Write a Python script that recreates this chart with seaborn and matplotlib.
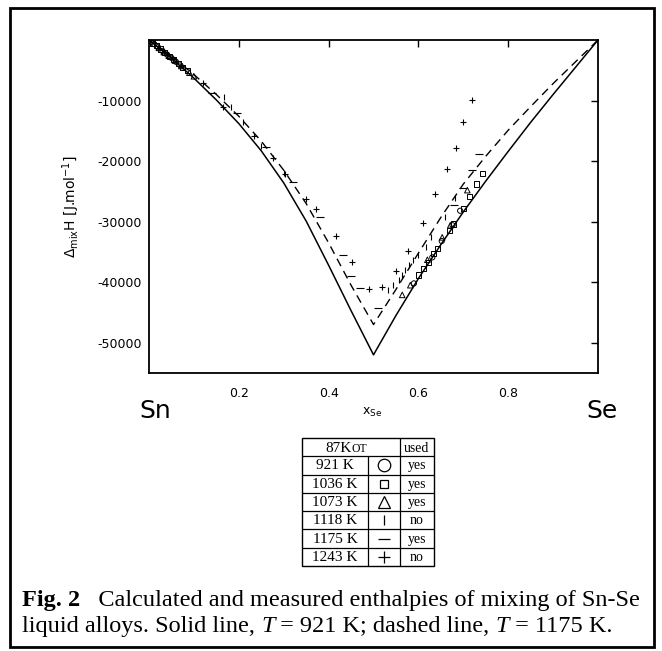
import matplotlib
matplotlib.use("Agg")
import matplotlib.pyplot as plt
import seaborn as sns
from matplotlib.patches import Rectangle

# calculated enthalpy of mixing, J/mol
x_calc = [0, 0.05, 0.1, 0.15, 0.2, 0.25, 0.3, 0.35, 0.4, 0.45, 0.5,
          0.55, 0.6, 0.65, 0.7, 0.75, 0.8, 0.85, 0.9, 0.95, 1.0]
h_calc_921 = [0, -3000, -6300, -9900, -13800, -18300, -23600, -29900, -37200, -44700, -52000,
              -45500, -39400, -33800, -28400, -23300, -18400, -13600, -9000, -4500, 0]
h_calc_1175 = [0, -2700, -5700, -9000, -12600, -16700, -21500, -27000, -33500, -40500, -47000,
               -41200, -35200, -29300, -23800, -19200, -14900, -11000, -7200, -3600, 0]

# measured points, 87Kot
x_921 = [0.005, 0.012, 0.02, 0.03, 0.04, 0.05, 0.06, 0.07, 0.59, 0.631, 0.652, 0.676, 0.693]
h_921 = [-300, -700, -1200, -1800, -2400, -2950, -3600, -4200, -40200, -35900, -33200, -30600, -28200]

x_1036 = [0.008, 0.016, 0.025, 0.035, 0.045, 0.055, 0.065, 0.075, 0.085,
          0.6, 0.611, 0.622, 0.633, 0.642, 0.669, 0.678, 0.70, 0.713, 0.729, 0.742]
h_1036 = [-500, -950, -1500, -2100, -2700, -3250, -3900, -4500, -5100,
          -38800, -37700, -36700, -35300, -34400, -31400, -30400, -27800, -25800, -23800, -22100]

x_1073 = [0.01, 0.022, 0.033, 0.044, 0.058, 0.072, 0.09, 0.1,
          0.564, 0.582, 0.62, 0.653, 0.671, 0.709]
h_1073 = [-600, -1300, -2000, -2600, -3400, -4300, -5400, -6000,
          -42100, -40500, -36300, -32600, -30600, -24800]

x_1118 = [0.167, 0.182, 0.21, 0.25, 0.3, 0.533, 0.544, 0.556, 0.564, 0.571, 0.578,
          0.589, 0.6, 0.618, 0.627, 0.66, 0.682]
h_1118 = [-9400, -11100, -13500, -17500, -22000, -41300, -40500, -39700, -38800, -38000, -37200,
          -36400, -35500, -34200, -32600, -29300, -26100]

x_1175 = [0.14, 0.196, 0.26, 0.32, 0.38, 0.431, 0.449, 0.471, 0.509, 0.68, 0.70, 0.72, 0.736]
h_1175 = [-8700, -12000, -17600, -23500, -29300, -35500, -39000, -41000, -44300,
          -27200, -24400, -21500, -18800]

x_1243 = [0.12, 0.164, 0.233, 0.276, 0.304, 0.349, 0.371, 0.416, 0.453, 0.489, 0.52,
          0.551, 0.576, 0.611, 0.638, 0.664, 0.684, 0.70, 0.72]
h_1243 = [-7100, -11000, -15900, -19500, -22100, -26300, -27900, -32400, -36700, -41200, -40800,
          -38200, -34900, -30200, -25500, -21300, -17900, -13500, -9900]

# legend table
temps = ["921 K", "1036 K", "1073 K", "1118 K", "1175 K", "1243 K"]
symbols = ["o", "s", "^", "|", "_", "+"]
used = ["yes", "yes", "yes", "no", "yes", "no"]

x_ticks = [0.2, 0.4, 0.6, 0.8]
y_ticks = [-10000, -20000, -30000, -40000, -50000]

sns.set_style("white")
plt.rcParams["font.family"] = ["DejaVu Sans"]
plt.rcParams["mathtext.fontset"] = "dejavusans"
for key in ["text.color", "axes.labelcolor", "xtick.color", "ytick.color"]:
    plt.rcParams[key] = "black"

W, H = 662, 651
fig = plt.figure(figsize=(W / 100, H / 100), dpi=100)
ax = fig.add_axes([149 / W, 1 - 373 / H, 449 / W, 333 / H])

sns.lineplot(x=x_calc, y=h_calc_921, ax=ax, color="k", lw=1.1, sort=False, estimator=None)
sns.lineplot(x=x_calc, y=h_calc_1175, ax=ax, color="k", lw=1.0, sort=False, estimator=None,
             linestyle=(0, (6, 4)))

hollow = dict(facecolor="none", edgecolor="k", linewidth=0.7)
sns.scatterplot(x=x_921, y=h_921, ax=ax, marker="o", s=14, **hollow)
sns.scatterplot(x=x_1036, y=h_1036, ax=ax, marker="s", s=14, **hollow)
sns.scatterplot(x=x_1073, y=h_1073, ax=ax, marker="^", s=16, **hollow)
sns.scatterplot(x=x_1118, y=h_1118, ax=ax, marker="|", s=22, color="k", linewidth=0.8)
sns.scatterplot(x=x_1175, y=h_1175, ax=ax, marker="_", s=30, color="k", linewidth=0.8)
sns.scatterplot(x=x_1243, y=h_1243, ax=ax, marker="+", s=22, color="k", linewidth=0.8)

ax.set_xlim(0, 1)
ax.set_ylim(-55000, 0)
ax.set_xticks(x_ticks)
ax.set_xticklabels([f"{t:.1f}" for t in x_ticks])
ax.set_yticks(y_ticks)
ax.set_yticklabels([str(t) for t in y_ticks])
ax.tick_params(axis="x", direction="in", length=5, width=1, top=True, pad=10, labelsize=9)
ax.tick_params(axis="y", direction="in", length=5, width=1, right=True, pad=5, labelsize=9)
for sp in ax.spines.values():
    sp.set_linewidth(1.3)
    sp.set_color("k")

ax.set_xlabel("")
ax.set_ylabel(r"$\Delta_{\mathrm{mix}}$H [J.mol$^{\mathrm{-1}}$]", fontsize=10)
ax.yaxis.set_label_coords(-0.15, 0.5)

ax.text(0.015, -0.115, "Sn", transform=ax.get_xaxis_transform(), ha="center", va="center", fontsize=18)
ax.text(1.01, -0.115, "Se", transform=ax.get_xaxis_transform(), ha="center", va="center", fontsize=18)
ax.text(0.497, -0.118, r"x$_{\mathrm{Se}}$", transform=ax.get_xaxis_transform(), ha="center", va="center",
        fontsize=9)

# table with symbols
serif = ["Liberation Serif", "DejaVu Serif"]
tw, th = 132, 128
tab = fig.add_axes([302 / W, 1 - 566 / H, tw / W, th / H])
tab.set_xlim(0, tw)
tab.set_ylim(th, 0)
tab.axis("off")
rh = th / 7
tab.add_patch(Rectangle((0, 0), tw, th, fill=False, lw=1.0, ec="k", clip_on=False))
for i in range(1, 7):
    tab.plot([0, tw], [i * rh, i * rh], color="k", lw=0.9)
tab.plot([98, 98], [0, th], color="k", lw=0.9)
tab.plot([66, 66], [rh, th], color="k", lw=0.9)
tab.text(50, rh / 2 + 1, "87K", ha="right", va="center", fontsize=11, family=serif)
tab.text(50, rh / 2 + 1.5, "OT", ha="left", va="center", fontsize=8.5, family=serif)
tab.text(115, rh / 2 + 1, "used", ha="center", va="center", fontsize=10, family=serif)
msize = {"o": 9, "s": 5.5, "^": 8, "|": 7, "_": 9, "+": 9}
for i, (t, m, u) in enumerate(zip(temps, symbols, used)):
    yc = (i + 1.5) * rh
    tab.text(33, yc + 0.5, t, ha="center", va="center", fontsize=11, family=serif)
    tab.plot(82, yc, marker=m, ms=msize[m], mfc="none", mec="k", mew=0.9, color="k")
    tab.text(115, yc + 0.5, u, ha="center", va="center", fontsize=10, family=serif)

# caption
renderer = fig.canvas.get_renderer()


def put_line(pieces, x0, y0):
    x = x0
    for txt, kw in pieces:
        t = fig.text(x / W, 1 - y0 / H, txt, ha="left", va="baseline", fontsize=17.5,
                     family=serif, color="k", **kw)
        x = t.get_window_extent(renderer).x1


put_line([("Fig. 2", {"weight": "bold"}),
          ("   Calculated and measured enthalpies of mixing of Sn-Se", {})], 22, 606)
put_line([("liquid alloys. Solid line, ", {}), ("T", {"style": "italic"}),
          (" = 921 K; dashed line, ", {}), ("T", {"style": "italic"}),
          (" = 1175 K.", {})], 22, 632)

# outer frame
fig.patches.append(Rectangle((10 / W, 1 - 647 / H), 644 / W, 639 / H, transform=fig.transFigure,
                             fill=False, lw=2.0, ec="k"))

fig.savefig("out.png", dpi=100)
